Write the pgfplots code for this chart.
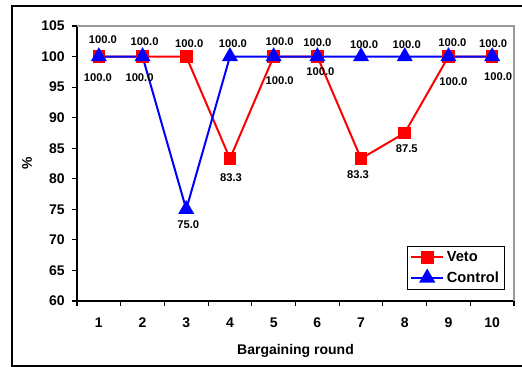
\documentclass[border=0pt]{standalone}
\usepackage{pgfplots}
\usepackage{pgfplotstable}
\pgfplotsset{compat=1.18}
\usepackage{fontspec}
\setmainfont{Liberation Sans}

\pgfplotstableread{
x y dx dy
1 100 -0.75 -15.75
2 100 -2.25 -15.75
3 100 2.25 9.75
4 83.3 0.75 -14.25
5 100 4.5 -18
6 100 2.25 -11.25
7 83.3 -2.25 -12
8 87.5 1.5 -12
9 100 3.75 -18.75
10 100 4.5 -15
}\veto

\pgfplotstableread{
x y dx dy
1 100 3 12.5
2 100 1.5 11
3 75 1.5 -11.25
4 100 2.25 9.5
5 100 4.5 11
6 100 0 10.25
7 100 2.25 8.75
8 100 1.5 8.75
9 100 3 10.25
10 100 0.75 9.5
}\control

\begin{document}
\begin{tikzpicture}
\path[use as bounding box] (-57.75pt,-49.5pt) rectangle (333.75pt,225.75pt);
\draw[black, line width=0.9pt] (334.5pt,221.25pt) -- (-48.75pt,221.25pt) -- (-48.75pt,-48.75pt) -- (334.5pt,-48.75pt);
\begin{axis}[
  scale only axis,
  width=327.75pt, height=206.25pt,
  xmin=0.5, xmax=10.5, ymin=60, ymax=105,
  xtick={0.5,1.5,...,10.5},
  xticklabels={},
  extra x ticks={1,2,3,4,5,6,7,8,9,10},
  extra x tick labels={1,2,3,4,5,6,7,8,9,10},
  extra x tick style={major tick length=0pt, xticklabel style={yshift=-9pt}},
  ytick={60,65,...,105},
  yticklabel style={xshift=-2pt},
  axis x line*=bottom, axis y line*=left,
  axis line style={black, line width=0.8pt},
  tick style={black, line width=0.8pt},
  tick align=outside,
  major tick length=3.75pt,
  /pgf/number format/assume math mode=true,
  ticklabel style={font=\bfseries\fontsize{10.5}{12}\selectfont},
  xlabel={Bargaining round},
  ylabel={\%},
  every axis x label/.style={at={(axis description cs:0.5,-0.18)}, anchor=center, font=\bfseries\fontsize{10.5}{12}\selectfont},
  every axis y label/.style={at={(axis description cs:-0.1144,0.5)}, anchor=center, rotate=90, font=\bfseries\fontsize{10.5}{12}\selectfont},
  clip=false,
  legend style={at={(0.979,0.04)}, anchor=south east, draw=black, line width=0.75pt, fill=white,
    font=\bfseries\fontsize{11}{13}\selectfont, inner sep=2pt, row sep=2pt},
  legend cell align=left,
  legend image code/.code={\draw[mark repeat=2,mark phase=2,#1] plot coordinates {(0pt,0pt) (12pt,0pt) (24pt,0pt)};},
  nodes near coords={\pgfmathprintnumber[fixed,fixed zerofill,precision=1]{\pgfplotspointmeta}},
  every node near coord/.append style={font=\bfseries\fontsize{8.4}{9.5}\selectfont, text=black},
]
\addplot[red, line width=1.5pt, mark=square*, mark size=4pt, mark options={solid},
  visualization depends on={\thisrow{dx} \as \dx},
  visualization depends on={\thisrow{dy} \as \dy},
  nodes near coords style={anchor=center, xshift=\dx pt, yshift=\dy pt}]
  table[x=x,y=y] {\veto};
\addlegendentry{Veto}
\addplot[blue, line width=1.5pt, mark=triangle*, mark size=5.5pt, mark options={solid},
  visualization depends on={\thisrow{dx} \as \dx},
  visualization depends on={\thisrow{dy} \as \dy},
  nodes near coords style={anchor=center, xshift=\dx pt, yshift=\dy pt}]
  table[x=x,y=y] {\control};
\addlegendentry{Control}
\draw[gray!80, line width=0.8pt] (rel axis cs:0,1) -- (rel axis cs:1,1) -- (rel axis cs:1,0);
\end{axis}
\end{tikzpicture}
\end{document}
